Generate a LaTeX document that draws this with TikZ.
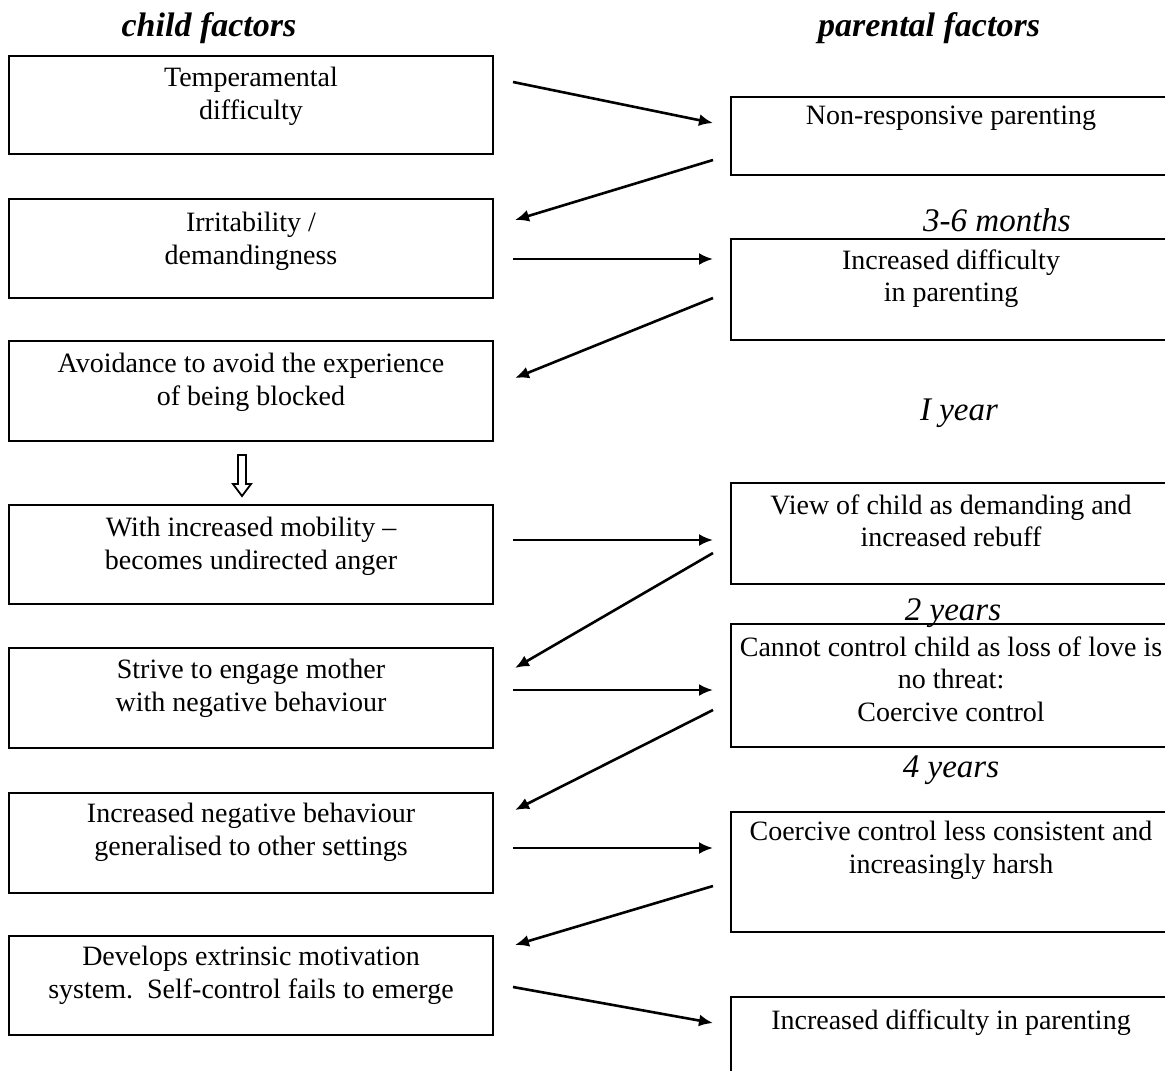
\documentclass[tikz,border=0pt]{standalone}
\usepackage{fontspec}
\setmainfont{Liberation Serif}
\usetikzlibrary{arrows.meta}
\tikzset{
  box/.style={draw, line width=1.1pt, rectangle, inner sep=0pt},
  lbox/.style={box, minimum width=242pt},
  rbox/.style={box, minimum width=220pt},
  txt/.style={anchor=north, inner sep=0pt, align=center, font=\fontsize{14pt}{16.3pt}\selectfont},
  head/.style={inner sep=0pt, font=\fontsize{17pt}{20pt}\selectfont\bfseries\itshape},
  age/.style={inner sep=0pt, font=\fontsize{16.5pt}{19pt}\selectfont\itshape},
  arr/.style={line width=1.3pt, -{Latex[length=7pt,width=6pt]}},
}
\begin{document}
\begin{tikzpicture}[x=0.5pt, y=-0.5pt]
\useasboundingbox (0,0) rectangle (1165,1070);
\clip (0,0) rectangle (1165,1070);
\fill[white] (0,0) rectangle (1165,1070);

% headers
\node[head] (hc) at (209,28) {child factors};
\node[head] (hp) at (929,28) {parental factors};

% left boxes
\node[lbox, minimum height=49pt]   (b1) at (251,105) {};
\node[lbox, minimum height=49.5pt] (b2) at (251,248.5) {};
\node[lbox, minimum height=50pt]   (b3) at (251,391) {};
\node[lbox, minimum height=49.5pt] (b4) at (251,554.5) {};
\node[lbox, minimum height=50pt]   (b5) at (251,698) {};
\node[lbox, minimum height=50pt]   (b6) at (251,843) {};
\node[lbox, minimum height=49.5pt] (b7) at (251,985.5) {};

\node[txt] (t1) at (251,67) {Temperamental\\difficulty};
\node[txt] (t2) at (251,212) {Irritability /\\demandingness};
\node[txt] (t3) at (251,353) {Avoidance to avoid the experience\\of being blocked};
\node[txt] (t4) at (251,517) {With increased mobility --\\becomes undirected anger};
\node[txt] (t5) at (251,659) {Strive to engage mother\\with negative behaviour};
\node[txt] (t6) at (251,803) {Increased negative behaviour\\generalised to other settings};
\node[txt] (t7) at (251,946) {Develops extrinsic motivation\\system.\ \ Self-control fails to emerge};

% right boxes
\node[rbox, minimum height=39pt]   (r1) at (951,136) {};
\node[rbox, minimum height=50.5pt] (r2) at (951,289.5) {};
\node[rbox, minimum height=50.5pt] (r3) at (951,533.5) {};
\node[rbox, minimum height=61.5pt] (r4) at (951,685.5) {};
\node[rbox, minimum height=60pt]   (r5) at (951,872) {};
\node[rbox, minimum height=55pt]   (r6) at (951,1052) {};

\node[txt] (s1) at (951,106) {Non-responsive parenting};
\node[txt] (s2) at (951,249) {Increased difficulty\\in parenting};
\node[txt] (s3) at (951,494) {View of child as demanding and\\increased rebuff};
\node[txt] (s4) at (951,636) {Cannot control child as loss of love is\\no threat:\\Coercive control};
\node[txt] (s5) at (951,821) {Coercive control less consistent and\\increasingly harsh};
\node[txt] (s6) at (951,1009) {Increased difficulty in parenting};

% age labels
\node[age] (g1) at (997,220) {3-6 months};
\node[age] (g2) at (959,413) {I year};
\node[age] (g3) at (953,613) {2 years};
\node[age] (g4) at (951,770) {4 years};

% hollow arrow between b3 and b4
\draw[line width=0.9pt, line join=miter] (238,455) -- (246,455) -- (246,484) -- (251,484) -- (242,496) -- (233,484) -- (238,484) -- cycle;

% connector end points
\coordinate (a1s) at (513,82);   \coordinate (a1e) at (713,123);
\coordinate (a2s) at (713,160);  \coordinate (a2e) at (515,220);
\coordinate (a3s) at (513,259);  \coordinate (a3e) at (713,259);
\coordinate (a4s) at (713,298);  \coordinate (a4e) at (515,378);
\coordinate (a5s) at (513,540);  \coordinate (a5e) at (713,540);
\coordinate (a6s) at (713,553);  \coordinate (a6e) at (515,668);
\coordinate (a7s) at (513,690);  \coordinate (a7e) at (713,690);
\coordinate (a8s) at (713,710);  \coordinate (a8e) at (515,810);
\coordinate (a9s) at (513,848);  \coordinate (a9e) at (713,848);
\coordinate (a10s) at (713,886); \coordinate (a10e) at (515,945);
\coordinate (a11s) at (513,987); \coordinate (a11e) at (713,1023);

\draw[arr] (a1s) -- (a1e);
\draw[arr] (a2s) -- (a2e);
\draw[arr] (a3s) -- (a3e);
\draw[arr] (a4s) -- (a4e);
\draw[arr] (a5s) -- (a5e);
\draw[arr] (a6s) -- (a6e);
\draw[arr] (a7s) -- (a7e);
\draw[arr] (a8s) -- (a8e);
\draw[arr] (a9s) -- (a9e);
\draw[arr] (a10s) -- (a10e);
\draw[arr] (a11s) -- (a11e);
\end{tikzpicture}
\end{document}
